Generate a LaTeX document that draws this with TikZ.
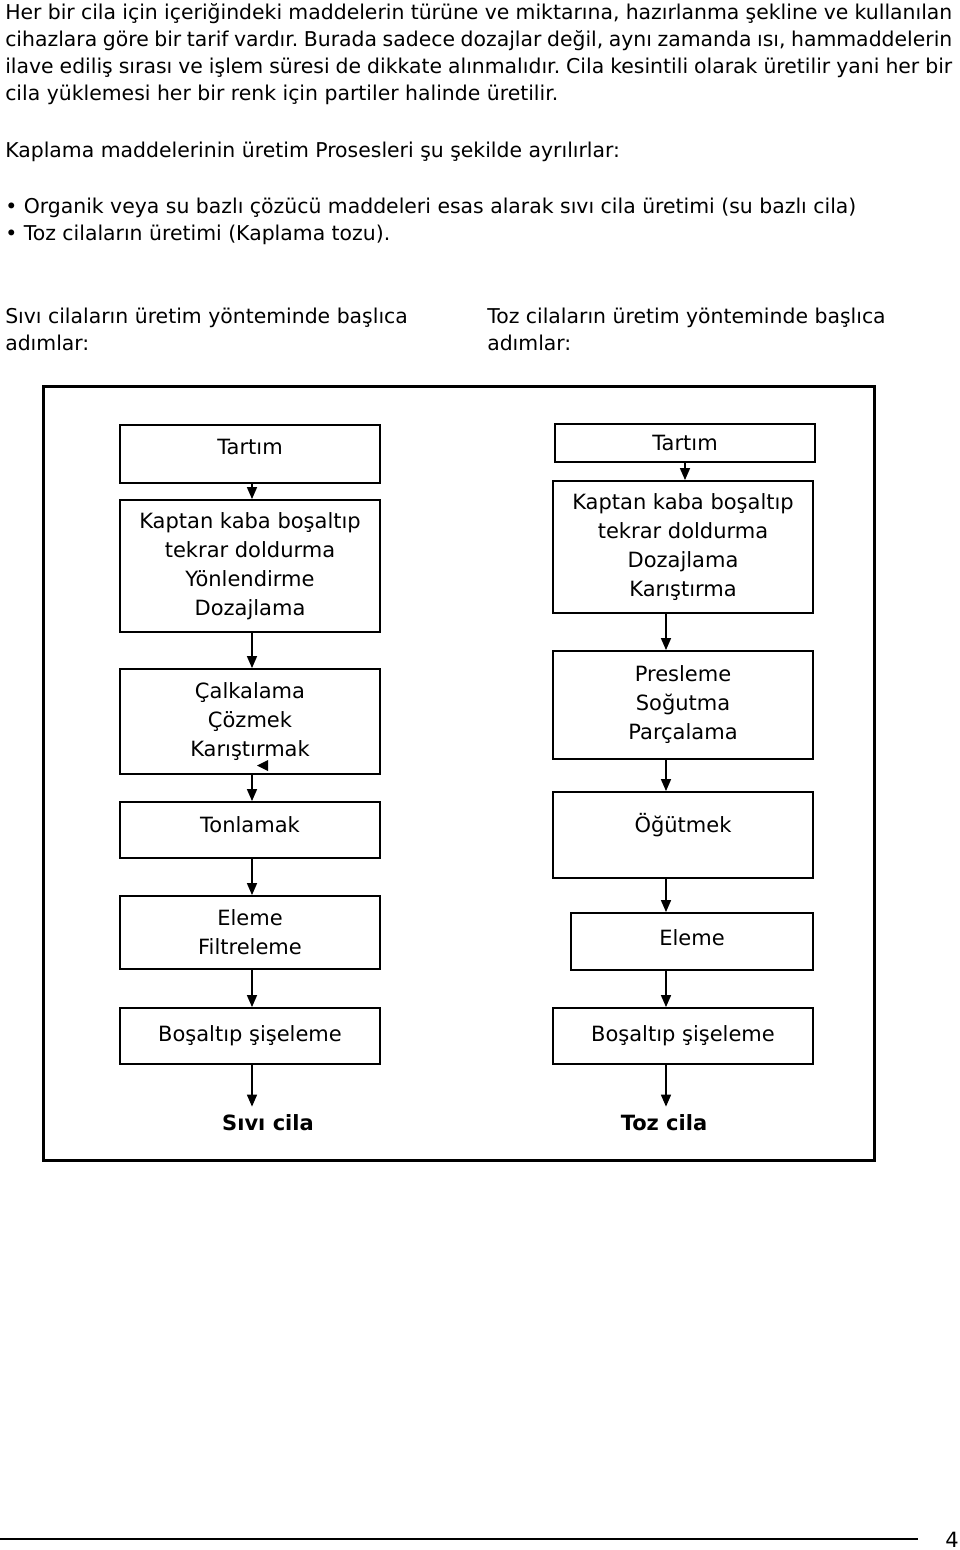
\documentclass[tikz,border=0pt]{standalone}
\usepackage{fontspec}
\setmainfont{DejaVu Sans}
\usetikzlibrary{arrows.meta, positioning}
\frenchspacing

\tikzset{
  adim/.style={draw, line width=1.4pt, minimum width=195pt, inner sep=0pt,
    align=center, font=\fontsize{15.75}{21.75}\selectfont},
  satir/.style={anchor=base west, inner sep=0pt, font=\fontsize{15.3}{20}\selectfont},
  sonuc/.style={inner sep=6pt, font=\fontsize{15.75}{20}\selectfont\bfseries},
  ok/.style={-{Triangle[length=9pt, width=7.5pt]}, line width=1.2pt},
}

\begin{document}
\begin{tikzpicture}[x=0.75pt, y=-0.75pt]
    \useasboundingbox (0,0) rectangle (960,1550);

    % metin
    \node [satir] (p1) at (5,19) {\makebox[710.25pt][s]{Her bir cila için içeriğindeki maddelerin türüne ve miktarına, hazırlanma şekline ve kullanılan}};
    \node [satir] (p2) at (5,46) {\makebox[710.25pt][s]{cihazlara göre bir tarif vardır. Burada sadece dozajlar değil, aynı zamanda ısı, hammaddelerin}};
    \node [satir] (p3) at (5,73) {\makebox[710.25pt][s]{ilave ediliş sırası ve işlem süresi de dikkate alınmalıdır. Cila kesintili olarak üretilir yani her bir}};
    \node [satir] (p4) at (5,100) {cila yüklemesi her bir renk için partiler halinde üretilir.};
    \node [satir] (kap) at (5,157) {Kaplama maddelerinin üretim Prosesleri şu şekilde ayrılırlar:};
    \node [satir] (mad1) at (5,213) {• Organik veya su bazlı çözücü maddeleri esas alarak sıvı cila üretimi (su bazlı cila)};
    \node [satir] (mad2) at (5,240) {• Toz cilaların üretimi (Kaplama tozu).};
    \node [satir] (basSol1) at (5,323) {Sıvı cilaların üretim yönteminde başlıca};
    \node [satir] (basSol2) at (5,350) {adımlar:};
    \node [satir] (basSag1) at (487,323) {Toz cilaların üretim yönteminde başlıca};
    \node [satir] (basSag2) at (487,350) {adımlar:};

    % cerceve
    \draw [line width=2.25pt] (43,386) rectangle (874,1160);

    % sivi cila
    \node [adim, minimum height=43.5pt, text depth=10.5pt] (tartimL) at (250,454) {Tartım};
    \node [adim, minimum height=99pt] (kaptanL) at (250,566) {Kaptan kaba boşaltıp\\tekrar doldurma\\Yönlendirme\\Dozajlama};
    \node [adim, minimum height=78.75pt] (calkL) at (250,721.5) {Çalkalama\\Çözmek\\Karıştırmak};
    \node [adim, minimum height=42pt, text depth=7.5pt] (tonL) at (250,830) {Tonlamak};
    \node [adim, minimum height=54.75pt] (elemeL) at (250,932.5) {Eleme\\Filtreleme};
    \node [adim, minimum height=42pt] (bosL) at (250,1036) {Boşaltıp şişeleme};
    \node [sonuc] (sivi) at (268,1123) {Sıvı cila};

    % toz cila
    \node [adim, minimum height=28.5pt] (tartimR) at (685,443) {Tartım};
    \node [adim, minimum height=99pt] (kaptanR) at (683,547) {Kaptan kaba boşaltıp\\tekrar doldurma\\Dozajlama\\Karıştırma};
    \node [adim, minimum height=81pt] (presR) at (683,705) {Presleme\\Soğutma\\Parçalama};
    \node [adim, minimum height=64.5pt, text depth=18pt] (ogutR) at (683,835) {Öğütmek};
    \node [adim, minimum width=181.5pt, minimum height=42.75pt, text depth=6pt] (elemeR) at (692,941.5) {Eleme};
    \node [adim, minimum height=42pt] (bosR) at (683,1036) {Boşaltıp şişeleme};
    \node [sonuc] (toz) at (664,1123) {Toz cila};

    \coordinate (solok) at (252,0);
    \coordinate (sagok) at (666,0);

    \path [ok]
      (solok |- tartimL.south) edge (solok |- kaptanL.north)
      (solok |- kaptanL.south) edge (solok |- calkL.north)
      (solok |- calkL.south) edge (solok |- tonL.north)
      (solok |- tonL.south) edge (solok |- elemeL.north)
      (solok |- elemeL.south) edge (solok |- bosL.north)
      (solok |- bosL.south) edge (solok |- sivi.north)
      (tartimR.south) edge (tartimR.south |- kaptanR.north)
      (sagok |- kaptanR.south) edge (sagok |- presR.north)
      (sagok |- presR.south) edge (sagok |- ogutR.north)
      (sagok |- ogutR.south) edge (sagok |- elemeR.north)
      (sagok |- elemeR.south) edge (sagok |- bosR.north)
      (sagok |- bosR.south) edge (sagok |- toz.north);

    % kutudaki ok ucu
    \fill (268,760) -- (268,771) -- (257,765.5) -- cycle;

    % sayfa alti
    \coordinate (cizgiA) at (0,1539);
    \coordinate (cizgiB) at (918,1539);
    \draw [line width=1pt] (cizgiA) -- (cizgiB);
    \node [font=\fontsize{15.75}{20}\selectfont] (sayfa) at (952,1540) {4};
\end{tikzpicture}
\end{document}
